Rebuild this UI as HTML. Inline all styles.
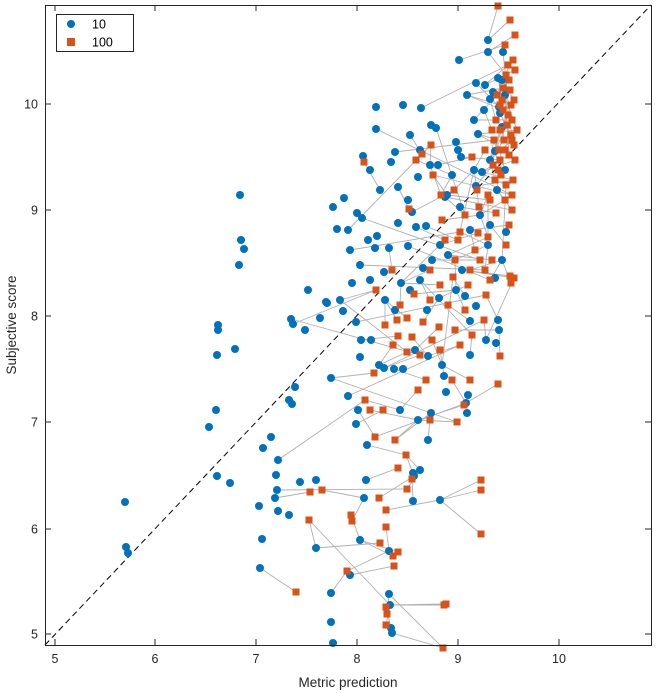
<!DOCTYPE html>
<html><head><meta charset="utf-8"><style>
body{margin:0;background:#fff;}
svg{display:block;font-family:"Liberation Sans",Arial,sans-serif;}
</style></head><body>
<svg id="s" width="656" height="693" xmlns="http://www.w3.org/2000/svg">
<rect x="0" y="0" width="656" height="693" fill="#fff"/>
<g id="lines" stroke="#b0b0b0" stroke-width="0.9" fill="none"></g>
<line x1="45" y1="645" x2="651" y2="5" stroke="#000" stroke-width="1" stroke-dasharray="6,4"/>
<g id="blue" fill="#0072bd"></g>
<g id="orange" fill="#d95319"></g>
<rect x="45.5" y="5.5" width="606" height="640" fill="none" stroke="#262626" stroke-width="1"/>
<g id="ticks" stroke="#262626" stroke-width="1"></g>
<g font-size="12.5" fill="#262626" id="tl"></g>
<text x="348" y="687" font-size="13.5" fill="#262626" text-anchor="middle">Metric prediction</text>
<text transform="translate(16,325) rotate(-90)" font-size="13.5" fill="#262626" text-anchor="middle">Subjective score</text>
<rect x="56.5" y="14.5" width="77" height="37" fill="#fff" stroke="#262626" stroke-width="1"/>
<circle cx="71" cy="24" r="4" fill="#0072bd"/>
<rect x="67" y="38" width="8" height="8" fill="#d95319"/>
<text x="92" y="28.5" font-size="12.5" fill="#000">10</text>
<text x="92" y="46.5" font-size="12.5" fill="#000">100</text>
</svg>
<script>
var NS="http://www.w3.org/2000/svg";
function el(p,t,a){var e=document.createElementNS(NS,t);for(var k in a)e.setAttribute(k,a[k]);document.getElementById(p).appendChild(e);return e;}
var xt=[[5,55],[6,155],[7,256],[8,357],[9,458],[10,559]];
var yt=[[10,104],[9,210],[8,316],[7,422],[6,529],[5,634]];
xt.forEach(function(t){el("ticks","line",{x1:t[1],y1:645,x2:t[1],y2:639});el("ticks","line",{x1:t[1],y1:5,x2:t[1],y2:11});
var e=el("tl","text",{x:t[1],y:663,"text-anchor":"middle"});e.textContent=t[0];});
yt.forEach(function(t){el("ticks","line",{x1:45,y1:t[1],x2:51,y2:t[1]});el("ticks","line",{x1:651,y1:t[1],x2:645,y2:t[1]});
var e=el("tl","text",{x:38,y:t[1]+4.5,"text-anchor":"end"});e.textContent=t[0];});
var B=[[126,547],[128,553],[125,502],[216,410],[209,427],[217,476],[230,483],[259,506],[262,539],[260,568],[278,460],[276,475],[277,490],[275,498],[278,511],[289,515],[316,480],[316,548],[300,482],[292,404],[295,387],[289,400],[271,437],[263,448],[331,378],[331,593],[331,622],[333,643],[366,480],[364,498],[367,445],[356,424],[358,410],[348,396],[389,551],[389,594],[390,605],[391,628],[392,633],[413,501],[414,476],[413,473],[428,440],[418,420],[431,413],[446,392],[444,376],[466,403],[467,413],[468,395],[496,343],[499,330],[218,325],[218,330],[235,349],[291,319],[293,324],[308,290],[326,302],[340,300],[343,311],[356,322],[361,340],[360,357],[371,340],[379,365],[384,368],[394,369],[403,369],[415,350],[428,356],[442,365],[470,355],[486,340],[498,320],[240,195],[241,240],[244,249],[239,265],[217,355],[327,303],[333,207],[344,198],[348,230],[337,229],[357,213],[362,218],[368,240],[377,236],[375,248],[384,272],[389,248],[398,223],[408,200],[412,212],[408,246],[416,227],[426,226],[432,260],[423,268],[420,280],[401,283],[410,290],[427,310],[439,298],[456,290],[465,296],[476,306],[470,321],[495,278],[502,260],[488,245],[506,232],[445,197],[460,207],[470,230],[447,195],[476,186],[482,172],[490,160],[495,151],[502,127],[500,113],[499,107],[490,99],[467,95],[474,120],[478,134],[484,110],[493,92],[488,52],[476,83],[459,60],[421,108],[431,125],[436,128],[456,142],[458,150],[461,157],[474,170],[403,105],[410,135],[395,152],[376,107],[376,129],[363,156],[370,170],[391,162],[398,187],[418,177],[420,150],[430,165],[488,40],[503,52],[502,80],[505,95],[498,78],[485,85],[360,265],[370,280],[352,283],[385,300],[395,310],[448,255],[462,270],[440,245],[480,215],[490,225],[505,170],[497,190],[452,175],[438,165],[380,190],[350,250],[320,318],[305,330],[400,410],[420,470],[440,500],[360,540],[350,575]];
var O=[[296,592],[347,571],[364,162],[386,510],[386,527],[393,556],[394,566],[398,552],[412,479],[407,489],[387,614],[386,607],[444,605],[446,604],[443,648],[481,490],[481,480],[481,534],[457,422],[464,405],[500,356],[498,384],[374,373],[375,437],[379,498],[351,515],[352,521],[309,520],[310,492],[322,490],[370,410],[383,410],[407,352],[412,337],[398,336],[397,320],[407,318],[414,294],[423,322],[430,300],[439,327],[453,277],[455,260],[458,240],[460,232],[442,220],[454,190],[409,209],[416,160],[422,154],[431,145],[433,175],[441,195],[472,157],[485,150],[477,190],[479,207],[478,233],[486,295],[490,280],[492,260],[488,237],[496,213],[505,200],[513,180],[510,276],[511,283],[514,278],[498,6],[510,20],[515,35],[505,45],[513,60],[506,75],[509,80],[514,100],[500,105],[508,115],[512,140],[505,150],[498,170],[495,180],[494,140],[500,130],[502,100],[510,90],[512,120],[499,150],[490,200],[480,260],[470,270],[465,310],[455,330],[440,350],[426,380],[418,390],[406,455],[398,468],[380,543],[386,625],[503,110],[507,125],[511,135],[504,140],[509,155],[515,160],[500,160],[506,185],[512,195],[496,120],[492,130],[515,70],[508,65],[511,105],[503,88],[497,95],[514,145],[517,130],[501,175],[493,165],[488,195],[475,250],[468,285],[484,320],[472,335],[448,305],[432,340],[420,355],[393,345],[385,325],[365,400],[395,440],[430,420],[452,380],[470,380],[460,345],[430,270],[445,240],[465,215],[400,305],[376,290],[392,270],[440,285],[485,270],[506,245],[509,225],[512,210]];
var L=[];
O.forEach(function(o,i){var best=null,bd=1e9;B.forEach(function(b,j){var d=(b[0]-o[0])*(b[0]-o[0])*0.3+(b[1]-o[1])*(b[1]-o[1]);if(d>400&&d<bd&&((j*7+i)%3!=0||d<4000)){bd=d;best=b;}});if(best)el("lines","line",{x1:o[0],y1:o[1],x2:best[0],y2:best[1]});});
B.forEach(function(b,i){var o=O[(i*13)%O.length];if(Math.abs(o[0]-b[0])<140&&Math.abs(o[1]-b[1])<90)el("lines","line",{x1:b[0],y1:b[1],x2:o[0],y2:o[1]});});
B.forEach(function(b){el("blue","circle",{cx:b[0],cy:b[1],r:4});});
O.forEach(function(o){el("orange","rect",{x:o[0]-3.5,y:o[1]-3.5,width:7,height:7});});
</script>
</body></html>
